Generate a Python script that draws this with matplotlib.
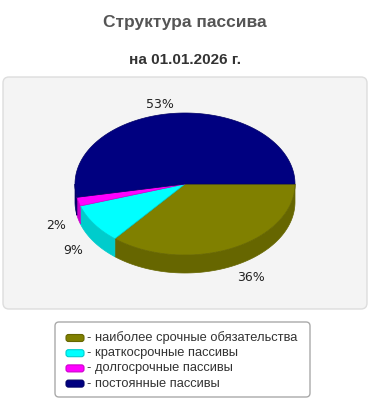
import numpy as np
import matplotlib
matplotlib.use("Agg")
import matplotlib.pyplot as plt
from matplotlib.patches import Polygon, FancyBboxPatch

# ---- data ----
categories = ["наиболее срочные обязательства", "краткосрочные пассивы",
              "долгосрочные пассивы", "постоянные пассивы"]
values = [36, 9, 2, 53]
top_colors = ["#808000", "#00ffff", "#ff00ff", "#000080"]
side_colors = ["#666600", "#00cccc", "#cc00cc", "#000066"]
title = "Структура пассива"
subtitle = "на 01.01.2026 г."

W, H = 370, 400
fig = plt.figure(figsize=(W / 100, H / 100), dpi=100)
ax = fig.add_axes([0, 0, 1, 1])
ax.set_xlim(0, W)
ax.set_ylim(H, 0)
ax.axis("off")

# titles
ax.text(185, 23, title, ha="center", va="center", fontsize=12.5, fontweight="bold",
        color="#555555", family="Liberation Sans")
ax.text(185, 60, subtitle, ha="center", va="center", fontsize=11, fontweight="bold",
        color="#333333", family="Liberation Sans")

# panel
ax.add_patch(FancyBboxPatch((3, 77), 364, 232, boxstyle="round,pad=0,rounding_size=6",
                            fc="#f4f4f4", ec="#dddddd", lw=1))

# 3D pie geometry
cx, cy, rx, ry, depth = 185, 184, 110, 71, 18
total = float(sum(values))
fr = np.array(values) / total
ends = np.cumsum(fr) * 360.0
starts = ends - fr * 360.0

def pt(t, dy=0.0):
    r = np.radians(t)
    return cx + rx * np.cos(r), cy + ry * np.sin(r) + dy

# side faces (front half: angles 0..180 going clockwise on screen)
for a1, a2, sc in zip(starts, ends, side_colors):
    lo, hi = max(a1, 0), min(a2, 180)
    if hi <= lo:
        continue
    ts = np.linspace(lo, hi, 80)
    top = [pt(t) for t in ts]
    bot = [pt(t, depth) for t in ts[::-1]]
    ax.add_patch(Polygon(top + bot, closed=True, fc=sc, ec=sc, lw=0.5))

# top faces
for a1, a2, tc, sc in zip(starts, ends, top_colors, side_colors):
    ts = np.linspace(a1, a2, max(int((a2 - a1) * 2), 4))
    poly = [(cx, cy)] + [pt(t) for t in ts]
    ax.add_patch(Polygon(poly, closed=True, fc=tc, ec=sc, lw=0.5))

# percentage labels
for a1, a2, v in zip(starts, ends, values):
    m = np.radians((a1 + a2) / 2)
    lx = cx + rx * 1.12 * np.cos(m)
    ly = cy + ry * 1.12 * np.sin(m) + (depth * 1.2 if np.sin(m) > 0 else 0)
    ax.text(lx, ly, f"{round(v / total * 100)}%",
            ha="right" if np.cos(m) < 0 else "left", va="center",
            fontsize=9, color="#222222", family="DejaVu Sans")

# legend
ax.add_patch(FancyBboxPatch((55, 322), 255, 75, boxstyle="round,pad=0,rounding_size=4",
                            fc="white", ec="#aaaaaa", lw=1))
for i, (lab, tc, sc) in enumerate(zip(categories, top_colors, side_colors)):
    y = 338 + i * 15.2
    ax.add_patch(FancyBboxPatch((66, y - 3.5), 18, 7, boxstyle="round,pad=0,rounding_size=2.5",
                                fc=tc, ec=sc, lw=0.8))
    ax.text(87, y, "- " + lab, ha="left", va="center", fontsize=9.3,
            color="#333333", family="Liberation Sans")

fig.savefig("out.png", dpi=100)
